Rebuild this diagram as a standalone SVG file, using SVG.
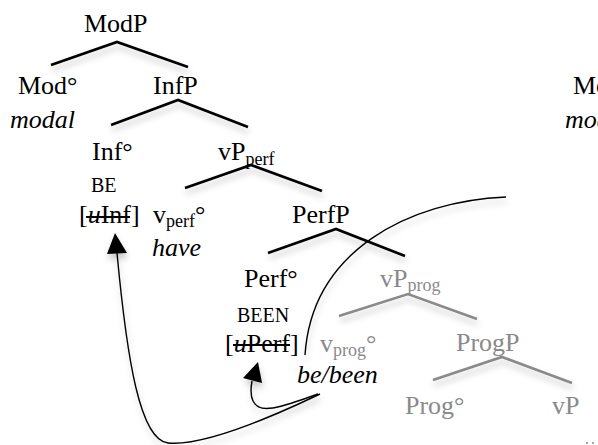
<svg xmlns="http://www.w3.org/2000/svg" width="598" height="445" viewBox="0 0 598 445">
  <style>
    text { font-family: "Liberation Serif", "Times New Roman", serif; font-size: 26px; fill: #000; }
    .it { font-style: italic; }
    .sm { font-size: 20px; }
    .sub { font-size: 18px; }
    .gray { fill: #8a8a8a; }
    .branch { fill: none; stroke: #000; stroke-width: 2.6; stroke-linejoin: miter; }
    .branch.g { stroke: #8a8a8a; }
    .move { fill: none; stroke: #000; stroke-width: 1.4; }
    .strike { stroke: #000; stroke-width: 2; }
    .head { fill: #000; }
  </style>
  <defs>
    <filter id="shadow" x="-20%" y="-40%" width="140%" height="200%">
      <feDropShadow dx="1" dy="5" stdDeviation="3" flood-color="#000" flood-opacity="0.22"/>
    </filter>
  </defs>
  <rect width="598" height="445" fill="#fff"/>

  <!-- tree branches and movement arrows -->
  <g id="connectors" filter="url(#shadow)">
    <polyline class="branch" points="51,65 117,42 188,67"/>
    <polyline class="branch" points="111,125 178,100 248,127"/>
    <polyline class="branch" points="185,188 251,165 322,191"/>
    <polyline class="branch" points="268,253 336,229 405,256"/>
    <polyline class="branch g" points="339,316 408,294 477,319"/>
    <polyline class="branch g" points="433,380 502,357 572,383"/>
    <path class="move" d="M506,197 C410,201 312,250 305,355"/>
    <path class="move" d="M320,394 C255,425 200,446 168,443 C140,440 127,360 117,253"/>
    <polygon class="head" points="115,233 107,254 127,253"/>
    <path class="move" d="M318,394 C290,404 268,412 259,407 C251,403 250,392 252,381"/>
    <polygon class="head" points="258,362 243,378 262,383"/>
  </g>

  <g id="ModP"><text x="84" y="32">ModP</text></g>
  <g id="Mod"><text x="18" y="94">Mod°</text><text class="it" x="10" y="128">modal</text></g>
  <g id="InfP"><text x="153" y="94">InfP</text></g>
  <g id="Inf">
    <text x="92" y="160">Inf°</text>
    <text class="sm" x="91" y="192">BE</text>
    <text x="79" y="223">[<tspan class="it">u</tspan>Inf]</text>
    <line class="strike" x1="86" y1="217" x2="130" y2="217"/>
  </g>
  <g id="vPperf"><text x="218" y="160">vP<tspan class="sub" dy="5">perf</tspan></text></g>
  <g id="vperf">
    <text x="153" y="223">v<tspan class="sub" dy="4">perf</tspan><tspan dy="-4">°</tspan></text>
    <text class="it" x="152" y="256">have</text>
  </g>
  <g id="PerfP"><text x="292" y="223">PerfP</text></g>
  <g id="Perf">
    <text x="244" y="287">Perf°</text>
    <text class="sm" x="237" y="322">BEEN</text>
    <text x="225" y="352">[<tspan class="it">u</tspan>Perf]</text>
    <line class="strike" x1="233" y1="345" x2="290" y2="345"/>
  </g>
  <g id="vPprog"><text class="gray" x="380" y="287">vP<tspan class="sub" dy="4">prog</tspan></text></g>
  <g id="vprog">
    <text class="gray" x="320" y="352">v<tspan class="sub" dy="4">prog</tspan><tspan dy="-4">°</tspan></text>
    <text class="it" x="297" y="383">be/been</text>
  </g>
  <g id="ProgP"><text class="gray" x="456" y="351">ProgP</text></g>
  <g id="Prog"><text class="gray" x="405" y="414">Prog°</text></g>
  <g id="vP"><text class="gray" x="552" y="414">vP</text></g>

  <!-- start of the neighbouring tree, cut by the right edge -->
  <g id="Mod2"><text x="573" y="94">Mod°</text><text class="it" x="565" y="128">modal</text></g>
  <g id="more">
    <circle cx="587" cy="443" r="1" fill="#8a8a8a"/>
    <circle cx="593" cy="443" r="1" fill="#8a8a8a"/>
  </g>
</svg>
